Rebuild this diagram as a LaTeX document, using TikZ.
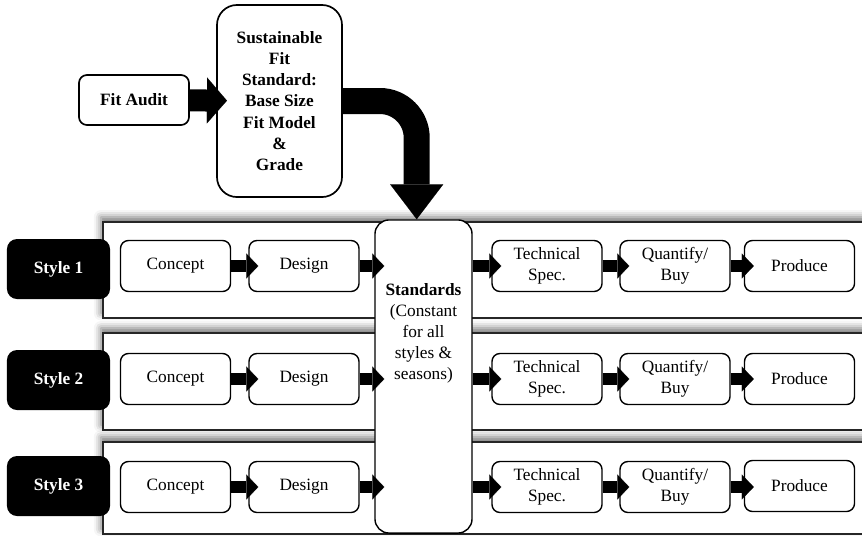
\documentclass[tikz,border=0pt]{standalone}
\usepackage{fontspec}
\setmainfont{Liberation Serif}
\usetikzlibrary{arrows.meta, positioning, calc, shadows.blur}

\tikzset{
  txt/.style={font=\fontsize{12.3}{15}\selectfont},
  btxt/.style={font=\fontsize{12.3}{15}\selectfont\bfseries},
  box/.style={txt, draw=black, line width=1pt, fill=white, rounded corners=0.2cm,
    minimum width=2.75cm, minimum height=1.275cm, align=center},
  tag/.style={btxt, fill=black, text=white, rounded corners=0.25cm,
    minimum width=2.575cm, minimum height=1.5cm},
  topbox/.style={btxt, draw=black, line width=1.2pt, fill=white, align=center},
  panel/.style={draw=black!85, line width=1.2pt, fill=white,
    blur shadow={shadow xshift=-0.05cm, shadow yshift=0.12cm, shadow blur radius=0.18cm, shadow opacity=55}},
  flow/.style={line width=0.3cm, -{Triangle[width=0.625cm, length=0.3cm, line width=0.1pt, fill=black]}, shorten >=-0.25cm},
  bigflow/.style={line width=0.55cm, -{Triangle[width=1.15cm, length=0.5cm, line width=0.1pt, fill=black]}, shorten >=-0.27cm},
  turnflow/.style={line width=0.65cm, -{Triangle[width=1.33cm, length=0.875cm, line width=0.1pt, fill=black]}, rounded corners=0.92cm},
}

\begin{document}
\begin{tikzpicture}[x=0.025cm, y=-0.025cm]
        \useasboundingbox (0,0) rectangle (862,535);

        % the three style rows
        \draw[panel] (103,222) rectangle (890,318);
        \draw[panel] (103,333) rectangle (890,430);
        \draw[panel] (103,442) rectangle (890,534);

        % shared standards column
        \node[draw=black, line width=1pt, fill=white, rounded corners=0.35cm,
              minimum width=2.425cm, minimum height=7.825cm] (std) at (423.5,376.5) {};
        \node[txt, align=center] (stdtxt) at ([yshift=1.075cm]std.center)
              {\textbf{Standards}\\(Constant\\for all\\styles \&\\seasons)};

        % fit standard on top
        \node[topbox, rounded corners=0.2cm, minimum width=2.75cm, minimum height=1.25cm] (audit) at (134,100) {Fit Audit};
        \node[topbox, rounded corners=0.5cm, minimum width=3.125cm, minimum height=4.8cm] (fit) at (279.5,101)
              {Sustainable\\Fit\\Standard:\\Base Size\\Fit Model\\\&\\Grade};

        \draw[bigflow] (audit) -- (fit);
        \draw[turnflow] (fit.east) -| ([xshift=-0.17cm]std.north);

        % style 1
        \node[tag] (s1) at (58.5,269) {Style 1};
        \node[box] (c1) at (175.5,266) {Concept};
        \node[box] (d1) at (304,266) {Design};
        \node[box] (t1) at (547,266) {Technical\\Spec.};
        \node[box] (q1) at (675,266) {Quantify/\\Buy};
        \node[box] (p1) at (799.5,266) {Produce};

        \draw[flow] (c1) -- (d1);
        \draw[flow] (d1.east) -- (d1.east -| std.west);
        \draw[flow] (t1.west -| std.east) -- (t1);
        \draw[flow] (t1) -- (q1);
        \draw[flow] (q1) -- (p1);

        % style 2
        \node[tag] (s2) at (58.5,380) {Style 2};
        \node[box] (c2) at (175.5,379) {Concept};
        \node[box] (d2) at (304,379) {Design};
        \node[box] (t2) at (547,379) {Technical\\Spec.};
        \node[box] (q2) at (675,379) {Quantify/\\Buy};
        \node[box] (p2) at (799.5,379) {Produce};

        \draw[flow] (c2) -- (d2);
        \draw[flow] (d2.east) -- (d2.east -| std.west);
        \draw[flow] (t2.west -| std.east) -- (t2);
        \draw[flow] (t2) -- (q2);
        \draw[flow] (q2) -- (p2);

        % style 3
        \node[tag] (s3) at (58.5,486) {Style 3};
        \node[box] (c3) at (175.5,487) {Concept};
        \node[box] (d3) at (304,487) {Design};
        \node[box] (t3) at (547,487) {Technical\\Spec.};
        \node[box] (q3) at (675,487) {Quantify/\\Buy};
        \node[box] (p3) at (799.5,486) {Produce};

        \draw[flow] (c3) -- (d3);
        \draw[flow] (d3.east) -- (d3.east -| std.west);
        \draw[flow] (t3.west -| std.east) -- (t3);
        \draw[flow] (t3) -- (q3);
        \draw[flow] (q3.east) -- (q3.east -| p3.west);

      \end{tikzpicture}
\end{document}
